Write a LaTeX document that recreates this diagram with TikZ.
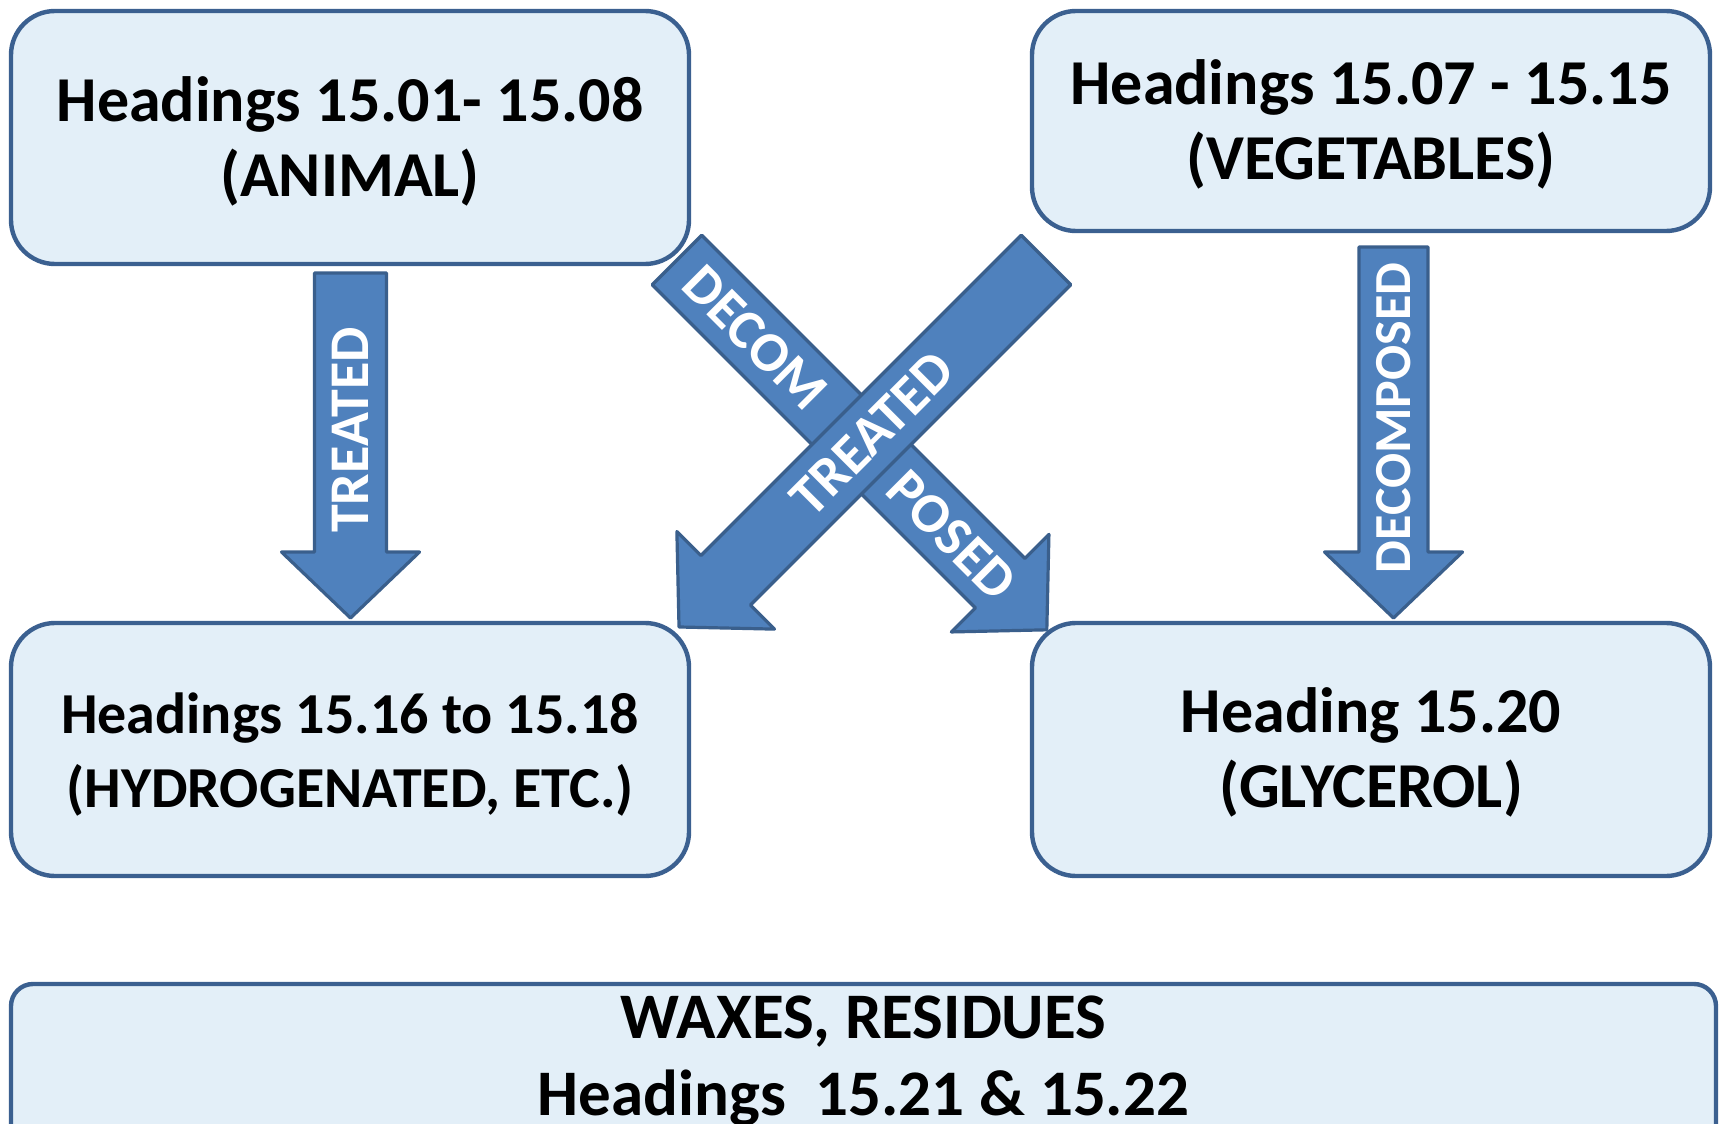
\documentclass[tikz,border=0pt]{standalone}
\usepackage{fontspec}
\setmainfont{Carlito}
\usetikzlibrary{calc}
\definecolor{boxfill}{HTML}{E3EFF8}
\definecolor{boxline}{HTML}{3B6090}
\definecolor{arrfill}{HTML}{4F81BD}
\definecolor{arrline}{HTML}{3A5F8C}
\tikzset{
  box/.style={draw=boxline, fill=boxfill, line width=2.2pt, rounded corners=22pt,
    minimum width=339pt, inner sep=0pt},
  boxtext/.style={align=center, inner sep=0pt, font=\bfseries\fontsize{32}{37.5}\selectfont},
  arrowbody/.style={draw=arrline, fill=arrfill, line width=1.6pt, line join=round},
  lbl/.style={text=white, font=\bfseries\fontsize{28}{30}\selectfont, inner sep=0pt},
}
% #1 tail (x,y), #2 canvas angle, #3 length (px), #4 shaft half-width (px), #5 labels
\newcommand\blockarrow[5]{%
  \begin{scope}[shift={#1}, rotate=#2]
    \draw[arrowbody] (0,-#4) -- (#3-66,-#4) -- (#3-66,-69) -- (#3,0)
      -- (#3-66,69) -- (#3-66,#4) -- (0,#4) -- cycle;
    #5
  \end{scope}}
\begin{document}
\begin{tikzpicture}[x=0.5pt,y=-0.5pt]
\clip (0,0) rectangle (1721,1124);
\fill[white] (0,0) rectangle (1721,1124);

\node[box, minimum height=126.5pt,
  label={[boxtext, yshift=-2pt]center:{Headings 15.01- 15.08\\(ANIMAL)}}] (animal) at (350,137.5) {};
\node[box, minimum height=110pt,
  label={[boxtext, yshift=-1.5pt]center:{Headings 15.07 - 15.15\\(VEGETABLES)}}] (veg) at (1371,121) {};
\node[box, minimum height=126.5pt,
  label={[boxtext, yshift=-2.5pt, font=\bfseries\fontsize{29}{37}\selectfont]center:{Headings 15.16 to 15.18\\(HYDROGENATED, ETC.)}}] (hydro) at (350,749.5) {};
\node[box, minimum height=126.5pt,
  label={[boxtext, yshift=-1.5pt]center:{Heading 15.20\\(GLYCEROL)}}] (glyc) at (1371,749.5) {};
\node[box, rounded corners=11pt, minimum width=852.5pt, minimum height=100pt] (waxes) at (863.5,1084) {};
\node[boxtext, font=\bfseries\fontsize{32.5}{38.5}\selectfont] (waxestext) at (863.5,1061)
  {WAXES, RESIDUES\\Headings~~15.21 \& 15.22};

% vertical arrows
\blockarrow{(350.5,273)}{-90}{345}{36}{%
  \node[lbl, rotate=90] (lblA) at (157,0) {TREATED};}
\blockarrow{(1393.5,247)}{-90}{371}{34.5}{%
  \node[lbl, font=\bfseries\fontsize{26}{28}\selectfont, rotate=90] (lblB) at (171,0) {DECOMPOSED};}
% diagonal arrows
\blockarrow{(677,260)}{-45}{523}{35}{%
  \node[lbl, rotate=-45] (lblC) at (110,0) {DECOM};
  \node[lbl, rotate=-45] (lblD) at (389,0) {POSED};}
\blockarrow{(1046,260)}{-135}{519}{35}{%
  \node[lbl, rotate=45] (lblE) at (246,0) {TREATED};}
\end{tikzpicture}
\end{document}
